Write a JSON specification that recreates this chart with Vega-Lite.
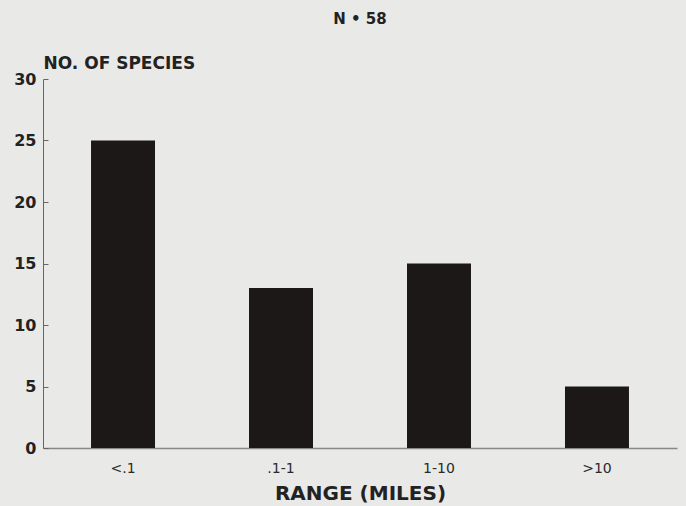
{
  "$schema": "https://vega.github.io/schema/vega-lite/v6.json",
  "width": 634,
  "height": 369,
  "padding": {"left": 43, "top": 79, "right": 9, "bottom": 58},
  "autosize": {"type": "none"},
  "background": "#e9e9e7",
  "title": {
    "text": "N • 58",
    "anchor": "middle",
    "font": "DejaVu Sans",
    "fontSize": 15,
    "fontWeight": "bold",
    "color": "#222222",
    "offset": 27
  },
  "data": {
    "values": [
      {"range": "<.1", "species": 25},
      {"range": ".1-1", "species": 13},
      {"range": "1-10", "species": 15},
      {"range": ">10", "species": 5}
    ]
  },
  "mark": {"type": "bar", "color": "#1c1818"},
  "encoding": {
    "x": {
      "field": "range",
      "type": "nominal",
      "sort": null,
      "scale": {"paddingInner": 0.595, "paddingOuter": 0.304},
      "axis": {
        "title": "RANGE (MILES)",
        "labelAngle": 0,
        "ticks": false,
        "labelPadding": 13,
        "labelFont": "DejaVu Sans",
        "labelFontSize": 14,
        "labelColor": "#2a2a2a",
        "titleFont": "DejaVu Sans",
        "titleFontSize": 20,
        "titleFontWeight": "bold",
        "titleColor": "#222222",
        "titlePadding": 8,
        "domainColor": "#888888",
        "domainWidth": 1.5
      }
    },
    "y": {
      "field": "species",
      "type": "quantitative",
      "scale": {"domain": [0, 30]},
      "axis": {
        "title": "NO. OF SPECIES",
        "values": [0, 5, 10, 15, 20, 25, 30],
        "grid": false,
        "tickSize": -5,
        "tickColor": "#666666",
        "labelPadding": 12,
        "labelFont": "DejaVu Sans",
        "labelFontSize": 16,
        "labelFontWeight": "bold",
        "labelColor": "#222222",
        "domainColor": "#666666",
        "titleAngle": 0,
        "titleAlign": "left",
        "titleBaseline": "alphabetic",
        "titleX": 0,
        "titleY": -11,
        "titleFont": "DejaVu Sans",
        "titleFontSize": 17,
        "titleFontWeight": "bold",
        "titleColor": "#222222"
      }
    }
  },
  "config": {"view": {"stroke": null}}
}
